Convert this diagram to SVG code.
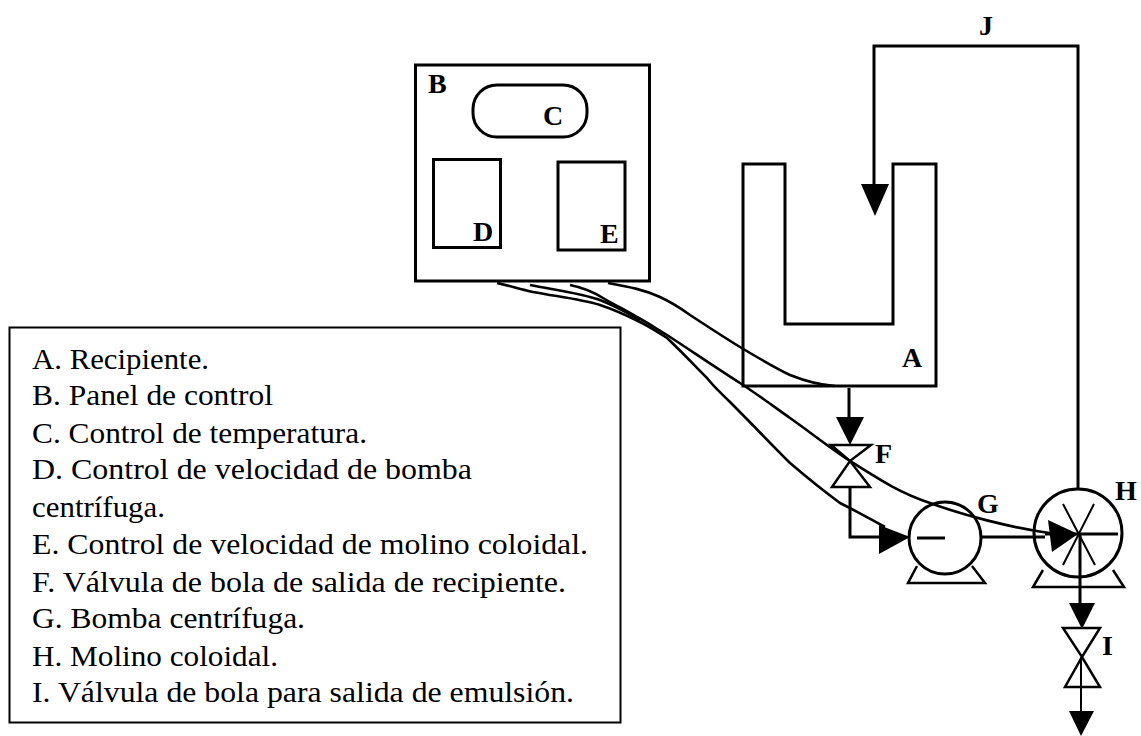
<svg xmlns="http://www.w3.org/2000/svg" width="1141" height="736" viewBox="0 0 1141 736">
<style>
.l{fill:none;stroke:#000;stroke-width:3}
.t{fill:none;stroke:#000;stroke-width:2.5}
.w{fill:none;stroke:#000;stroke-width:2.6}
.a{fill:#000;stroke:none}
.b{font:bold 28px "Liberation Serif",serif;fill:#000}
.k{font:29px "Liberation Serif",serif;fill:#000}
</style>
<rect width="1141" height="736" fill="#fff"/>
<g id="legend">
<rect x="9.500" y="327.500" width="611" height="395" fill="#fff" stroke="#000" stroke-width="2"/>
<text class="k" x="32" y="369" textLength="177" lengthAdjust="spacingAndGlyphs">A. Recipiente.</text>
<text class="k" x="32" y="405" textLength="241" lengthAdjust="spacingAndGlyphs">B. Panel de control</text>
<text class="k" x="32" y="443" textLength="335" lengthAdjust="spacingAndGlyphs">C. Control de temperatura.</text>
<text class="k" x="32" y="479" textLength="440" lengthAdjust="spacingAndGlyphs">D. Control de velocidad de bomba</text>
<text class="k" x="32" y="517" textLength="133" lengthAdjust="spacingAndGlyphs">centrífuga.</text>
<text class="k" x="32" y="554" textLength="556" lengthAdjust="spacingAndGlyphs">E. Control de velocidad de molino coloidal.</text>
<text class="k" x="32" y="592" textLength="534" lengthAdjust="spacingAndGlyphs">F. Válvula de bola de salida de recipiente.</text>
<text class="k" x="32" y="628" textLength="273" lengthAdjust="spacingAndGlyphs">G. Bomba centrífuga.</text>
<text class="k" x="32" y="666" textLength="246" lengthAdjust="spacingAndGlyphs">H. Molino coloidal.</text>
<text class="k" x="32" y="702" textLength="542" lengthAdjust="spacingAndGlyphs">I. Válvula de bola para salida de emulsión.</text>
</g>
<g id="node-B">
<rect x="415.500" y="65" width="234" height="216" class="l"/>
<text class="b" x="428" y="93">B</text>
</g>
<g id="node-C">
<rect x="473" y="85" width="114" height="52" rx="24" class="l"/>
<text class="b" x="543" y="125">C</text>
</g>
<g id="node-D">
<rect x="433.500" y="159.500" width="67" height="88" class="l"/>
<text class="b" x="473" y="241">D</text>
</g>
<g id="node-E">
<rect x="558" y="162" width="67" height="88" class="l"/>
<text class="b" x="600" y="243">E</text>
</g>
<g id="node-A">
<path class="l" d="M743 164H785V324H893V164H936V386H743Z"/>
<text class="b" x="902" y="367">A</text>
</g>
<g id="node-F">
<path class="t" d="M831 445H871L850 461ZM832 487H870L850 461Z"/>
<text class="b" x="875" y="463">F</text>
</g>
<g id="node-G">
<circle cx="945" cy="538" r="36" fill="#fff" stroke="#000" stroke-width="3"/>
<path class="t" d="M917 566L908 583H985L972 566"/>
<text class="b" x="977" y="513">G</text>
</g>
<g id="node-H">
<circle cx="1078" cy="533" r="44" fill="#fff" stroke="#000" stroke-width="3"/>
<path class="t" d="M1043 570L1033 587H1124L1113 570"/>
<path stroke="#000" stroke-width="2" d="M1063 504L1095 565M1094 504L1063 565"/>
<text class="b" x="1115" y="500">H</text>
</g>
<g id="node-I">
<path class="t" d="M1063 628H1100L1082 657ZM1065 687H1100L1082 657Z"/>
<text class="b" x="1102" y="655">I</text>
</g>
<g id="connectors">
<path class="l" d="M1078 488V46H874V190"/>
<text class="b" x="979" y="35">J</text>
<path class="a" d="M861 184H889L875 216Z"/>
<path class="l" d="M849 388V430"/>
<path class="a" d="M836 417H864L850 445Z"/>
<path class="l" d="M850 487V537H905"/>
<path class="a" d="M879 525V554L910 537Z"/>
<path class="l" d="M917 538H945"/>
<path class="l" d="M981 537H1045"/>
<path class="l" d="M1045 534H1118"/>
<path class="a" d="M1048 520L1052 552L1078 534Z"/>
<path class="l" d="M1080 533V610"/>
<path class="a" d="M1069 603H1095L1082 629Z"/>
<path stroke="#000" stroke-width="2" d="M1081 657V712"/>
<path class="a" d="M1069 711H1094L1081 736Z"/>
<path class="w" d="M608 283C630 287 645 290 660 297C675 304 683 310 690 315C710 328 725 338 740 347C760 359 775 368 790 375C805 381 820 385 835 386"/>
<path class="w" d="M570 285C585 288 595 293 603 298C615 305 625 310 637 317C648 323 657 329 667 335C690 350 715 367 740 383C757 394 773 406 790 418C810 432 830 448 850 461C880 480 900 493 930 503C960 514 1010 528 1056 534"/>
<path class="w" d="M497 283C510 286 520 289 533 292C560 297 580 299 600 305C615 310 628 316 640 322C650 327 658 332 667 338C682 352 695 366 707 378C714 387 722 394 730 402C750 422 770 443 790 463C810 480 825 492 840 503C860 513 870 519 885 527"/>
<path class="w" d="M530 285C555 290 580 293 600 300C615 306 628 313 640 320"/>
</g>
</svg>
